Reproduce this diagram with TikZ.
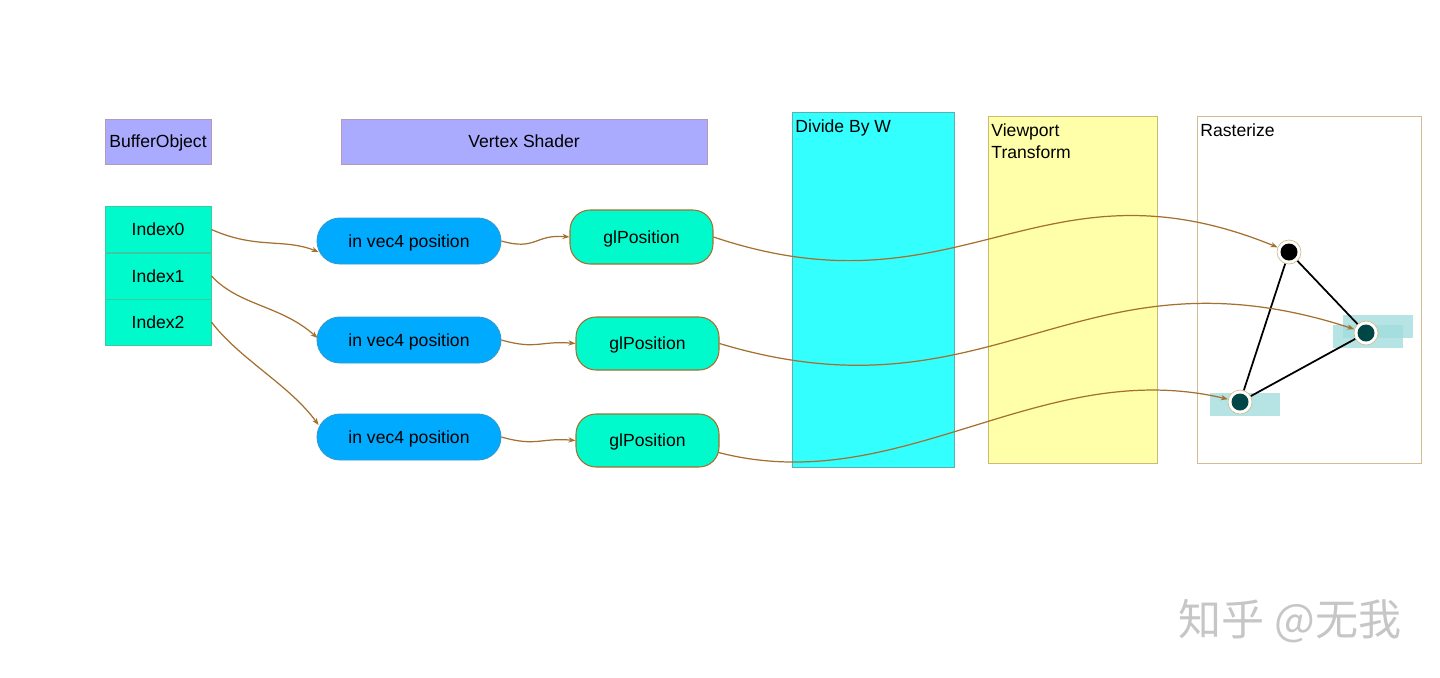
\documentclass[tikz,border=0pt]{standalone}
\usepackage{fontspec}
\setmainfont{Liberation Sans}
\newfontfamily\cjk{Noto Sans CJK SC}
\usetikzlibrary{arrows.meta,shapes.misc}

\definecolor{lavender}{HTML}{AAAAFF}
\definecolor{lavline}{HTML}{B39BB5}
\definecolor{aqua}{HTML}{00FACC}
\definecolor{aqualine}{HTML}{3CCB9E}
\definecolor{pillblue}{HTML}{00AAFF}
\definecolor{pillline}{HTML}{3399CC}
\definecolor{brownline}{HTML}{A5702F}
\definecolor{cyanfill}{HTML}{33FFFF}
\definecolor{cyanline}{HTML}{5AAFAF}
\definecolor{yellowfill}{HTML}{FFFFAA}
\definecolor{yellowline}{HTML}{CCBB77}
\definecolor{tanline}{HTML}{D5BC90}
\definecolor{hilite}{HTML}{9EDCDC}
\definecolor{darkteal}{HTML}{004646}

\begin{document}
\begin{tikzpicture}[
  x=0.02cm, y=-0.02cm,
  font=\fontsize{10}{12.5}\selectfont,
  every node/.style={inner sep=0pt},
  boxtext/.style={text height=0.72em, text depth=0pt},
  bufbox/.style={boxtext, draw=lavline, fill=lavender, line width=0.5pt},
  idxbox/.style={boxtext, draw=aqualine, fill=aqua, line width=0.5pt,
    minimum width={106*\px}, minimum height={46*\px}},
  pillbox/.style={boxtext, rounded rectangle, draw=pillline, fill=pillblue, line width=0.5pt,
    minimum width={184*\px}, minimum height={46*\px}},
  glbox/.style={boxtext, rectangle, rounded corners={20*\px}, draw=brownline, fill=aqua,
    line width=0.6pt, minimum width={143*\px}, minimum height={53*\px}},
  stagebox/.style={line width=0.5pt, minimum height={347*\px}},
  stagelabel/.style={anchor=north west, align=left, inner sep=2pt, yshift=-2.6pt},
  vertex/.style={circle, draw=tanline, fill=white, line width=0.4pt,
    minimum size={24*\px}},
  flow/.style={draw=brownline, line width=0.7pt, -{Stealth[length=4pt,width=3pt]}},
  edge/.style={draw=black, line width=1pt}
]
\def\px{0.02cm}

% ===== 画布范围 =====
\useasboundingbox (0,0) rectangle (1440,677);

% ===== 标题框 =====
\node[bufbox, minimum width={106*\px}, minimum height={45*\px}] (buf) at (158,141.5) {BufferObject};
\node[bufbox, minimum width={366*\px}, minimum height={45*\px}] (vs) at (524,141.5) {Vertex Shader};

% ===== 缓冲区索引 =====
\foreach \i/\y in {0/229.5,1/276,2/322}
  \node[idxbox] (idx\i) at (158,\y) {Index\i};

% ===== 顶点着色器输入 / 输出 =====
\node[pillbox] (pos0) at (409,241) {in vec4 position};
\node[pillbox] (pos1) at (409,340) {in vec4 position};
\node[pillbox] (pos2) at (409,437) {in vec4 position};

\node[glbox, minimum height={54*\px}] (gl0) at (641.5,237) {glPosition};
\node[glbox] (gl1) at (647.5,343.5) {glPosition};
\node[glbox] (gl2) at (647.5,440.5) {glPosition};

% ===== 后续阶段 =====
\node[stagebox, draw=cyanline, fill=cyanfill, minimum width={162*\px},
  minimum height={355*\px}] (divw) at (873,289.5) {};
\node[stagebox, draw=yellowline, fill=yellowfill, minimum width={169*\px}] (view) at (1072.5,289.5) {};
\node[stagebox, draw=tanline, fill=white, minimum width={224*\px}] (rast) at (1309,289.5) {};

\node[stagelabel] (divwlbl) at (divw.north west) {Divide By W};
\node[stagelabel] (viewlbl) at (view.north west) {Viewport\\Transform};
\node[stagelabel] (rastlbl) at (rast.north west) {Rasterize};

% ===== 光栅化三角形 =====
\fill[hilite, opacity=0.75] (1333,325) rectangle (1403,348);
\fill[hilite, opacity=0.75] (1343,315) rectangle (1413,338);
\fill[hilite, opacity=0.75] (1210,393) rectangle (1280,416);

\node[vertex, path picture={\fill[black] (path picture bounding box.center) circle ({8.5*\px});}] (v0) at (1289,252) {};
\node[vertex, path picture={\fill[darkteal] (path picture bounding box.center) circle ({8.5*\px});}] (v1) at (1366,333) {};
\node[vertex, path picture={\fill[darkteal] (path picture bounding box.center) circle ({8.5*\px});}] (v2) at (1240,402) {};

\draw[edge] (v0) -- (v1);
\draw[edge] (v0) -- (v2);
\draw[edge] (v2) -- (v1);

% ===== 连线 =====
\draw[flow] (idx0.east) .. controls +(45,20) and +(-35,-14) .. ([shift={(2,11)}]pos0.west);
\draw[flow] (idx1.east) .. controls +(28,30) and +(-37,-33) .. ([shift={(1,-2)}]pos1.west);
\draw[flow] (idx2.east) .. controls +(28,37) and +(-29,-40) .. ([shift={(2,-12)}]pos2.west);

\draw[flow] (pos0.east) .. controls +(35,10) and +(-35,-3) .. (gl0.west);
\draw[flow] (pos1.east) .. controls +(35,10) and +(-35,-3) .. (gl1.west);
\draw[flow] (pos2.east) .. controls +(35,10) and +(-35,-3) .. (gl2.west);

\draw[flow] (gl0.east) .. controls +(247,83) and +(-249,-102) .. (v0);
\draw[flow] (gl1.east) .. controls +(275,83) and +(-288,-94) .. (v1);
\draw[flow] ([shift={(-1,12)}]gl2.east) .. controls +(182,47) and +(-200,-47) .. (v2);

% ===== 水印 =====
\node[font=\cjk\fontsize{24.5}{24.5}\selectfont, text=gray!45] (mark) at (1290,621) {知乎 @无我};

\end{tikzpicture}
\end{document}
